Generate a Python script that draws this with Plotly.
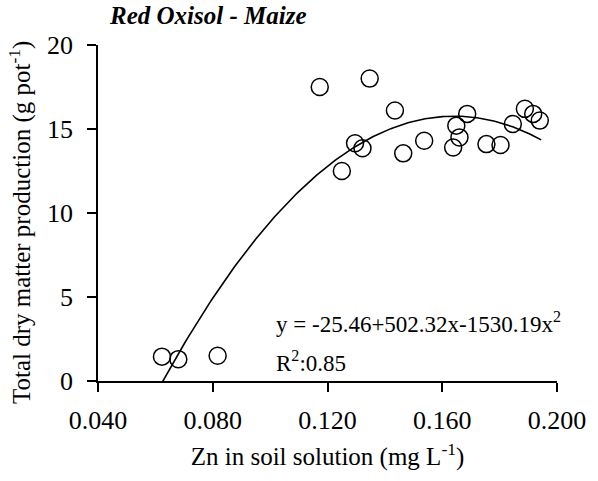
import numpy as np
import plotly.graph_objects as go

zn = [0.0623, 0.0680, 0.0817, 0.1173, 0.1250, 0.1296, 0.1322, 0.1347, 0.1435,
      0.1464, 0.1537, 0.1638, 0.1649, 0.1660, 0.1687, 0.1754, 0.1803, 0.1846,
      0.1888, 0.1917, 0.1940]
dm = [1.45, 1.30, 1.50, 17.5, 12.5, 14.15, 13.85, 18.0, 16.1,
      13.55, 14.3, 13.9, 15.2, 14.5, 15.9, 14.1, 14.05, 15.3,
      16.2, 15.9, 15.5]

coef = [-25.46, 502.32, -1530.19]
x_fit_range = [0.0625, 0.1945]
xticks = [0.040, 0.080, 0.120, 0.160, 0.200]
xticklabels = ["0.040", "0.080", "0.120", "0.160", "0.200"]
yticks = [0, 5, 10, 15, 20]

xf = np.linspace(x_fit_range[0], x_fit_range[1], 200)
yf = coef[0] + coef[1] * xf + coef[2] * xf ** 2

font = "Liberation Serif"
fig = go.Figure()
fig.add_trace(go.Scatter(x=xf, y=yf, mode="lines",
                         line=dict(color="black", width=1.6), showlegend=False))
fig.add_trace(go.Scatter(x=zn, y=dm, mode="markers",
                         marker=dict(symbol="circle-open", size=17,
                                     color="black", line=dict(width=1.5)),
                         showlegend=False))

axis_common = dict(showline=True, linecolor="black", linewidth=1.5,
                   ticks="outside", ticklen=9, tickwidth=1.5, tickcolor="black",
                   showgrid=False, zeroline=False,
                   tickfont=dict(family=font, size=26, color="black"))

fig.update_layout(
    width=598, height=481,
    margin=dict(l=98, r=33, t=45, b=100),
    plot_bgcolor="white", paper_bgcolor="white",
    xaxis=dict(range=[0.04, 0.2], tickvals=xticks, ticktext=xticklabels,
               title=dict(text="Zn in soil solution (mg L<sup>-1</sup>)",
                          font=dict(family=font, size=25, color="black"),
                          standoff=14),
               ticklabelstandoff=6, **axis_common),
    yaxis=dict(range=[0, 20], tickvals=yticks,
               ticklabelstandoff=9, **axis_common),
    annotations=[
        dict(text="Total dry matter production (g pot<sup>-1</sup>)",
             xref="paper", yref="paper", x=0, xshift=-78, y=0.47,
             xanchor="center", yanchor="middle", textangle=-90,
             showarrow=False, font=dict(family=font, size=25, color="black")),
        dict(text="<b><i>Red Oxisol - Maize</i></b>", xref="paper", yref="paper",
             x=0.02, y=1.0, yshift=30, xanchor="left", yanchor="middle",
             showarrow=False, font=dict(family=font, size=25, color="black")),
        dict(text="y = -25.46+502.32x-1530.19x<sup>2</sup>",
             xref="x", yref="y", x=0.1012, y=3.5, xanchor="left", yanchor="middle",
             align="left", showarrow=False,
             font=dict(family=font, size=23, color="black")),
        dict(text="R<sup>2</sup>:0.85",
             xref="x", yref="y", x=0.1012, y=1.15, xanchor="left", yanchor="middle",
             align="left", showarrow=False,
             font=dict(family=font, size=23, color="black")),
    ],
)

fig.write_html("out.html")
